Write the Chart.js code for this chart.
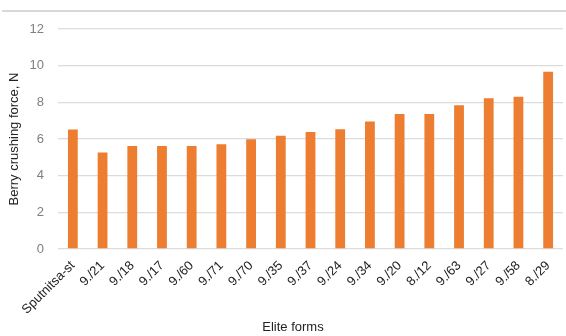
<!DOCTYPE html>
<html>
<head>
<meta charset="utf-8">
<script src="https://cdn.jsdelivr.net/npm/chart.js@4/dist/chart.umd.min.js"></script>
<style>
  html, body { margin: 0; padding: 0; background: #fff; }
  #wrap { position: relative; width: 566px; height: 336px; }
  #topRule { position: absolute; left: 2px; top: 10px; width: 564px; height: 2px; background: #d9d9d9; }
  canvas { position: absolute; left: 0; top: 0; }
</style>
</head>
<body>
<div id="wrap">
  <div id="topRule"></div>
  <canvas id="c" width="566" height="336"></canvas>
</div>
<script>
// Elite forms and their berry crushing force (N)
const forms = ["Sputnitsa-st", "9./21", "9./18", "9./17", "9./60", "9./71", "9./70", "9./35",
               "9./37", "9./24", "9./34", "9./20", "8./12", "9./63", "9./27", "9./58", "8./29"];
const crushingForce = [6.52, 5.26, 5.62, 5.62, 5.62, 5.71, 5.98, 6.18,
                       6.38, 6.53, 6.96, 7.36, 7.36, 7.84, 8.22, 8.31, 9.67];
const yTicks = [0, 2, 4, 6, 8, 10, 12];
const xTitle = 'Elite forms';

const font = "'Liberation Sans', Arial, sans-serif";

// Horizontal axis title, centred under the whole figure rather than the plot area
const xTitlePlugin = {
  id: 'xTitle',
  afterDraw(chart) {
    const ctx = chart.ctx;
    ctx.save();
    ctx.font = "13px " + font;
    ctx.fillStyle = '#222';
    ctx.textAlign = 'center';
    ctx.textBaseline = 'middle';
    ctx.fillText(xTitle, 293, 327);
    ctx.restore();
  }
};

new Chart(document.getElementById('c'), {
  type: 'bar',
  data: {
    labels: forms,
    datasets: [{
      data: crushingForce,
      backgroundColor: '#ED7D31',
      borderWidth: 0,
      barPercentage: 0.66,
      categoryPercentage: 0.5
    }]
  },
  options: {
    responsive: false,
    animation: false,
    layout: { padding: { top: 29, right: 3, left: 0, bottom: 0 } },
    plugins: { legend: { display: false }, tooltip: { enabled: false } },
    scales: {
      x: {
        grid: { display: false },
        border: { display: false },
        ticks: {
          minRotation: 45, maxRotation: 45, autoSkip: false,
          padding: 1,
          color: '#222', font: { family: font, size: 13 }
        },
        afterFit: (s) => { s.height = 87; }
      },
      y: {
        min: 0, max: 12,
        afterBuildTicks: (s) => { s.ticks = yTicks.map(v => ({ value: v })); },
        grid: { color: '#dcdcdc', lineWidth: 1.3, drawTicks: false },
        border: { display: false },
        ticks: {
          padding: 14,
          color: '#7f7f7f', font: { family: font, size: 13 }
        },
        title: {
          display: true, text: 'Berry crushing force, N',
          color: '#222', font: { family: font, size: 13 },
          padding: { top: 7, bottom: 0 }
        },
        afterFit: (s) => { s.width = 58; }
      }
    }
  },
  plugins: [xTitlePlugin]
});
</script>
</body>
</html>
